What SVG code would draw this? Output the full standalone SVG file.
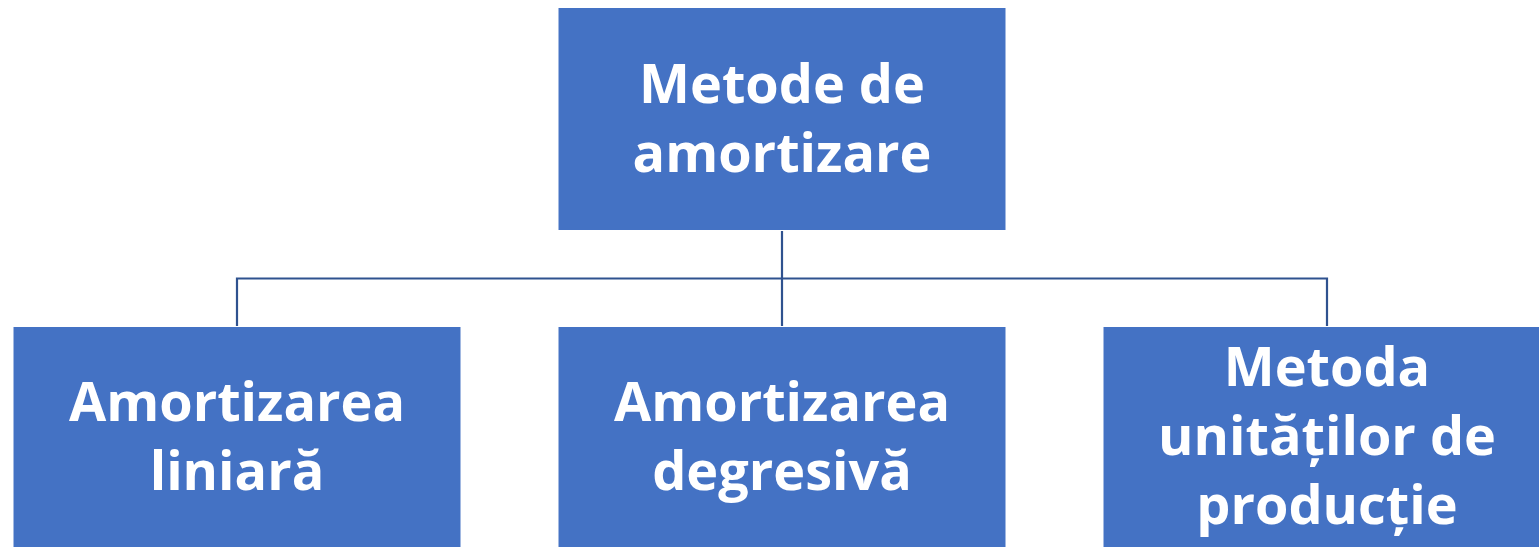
<svg xmlns="http://www.w3.org/2000/svg" width="1539" height="547" viewBox="0 0 1539 547">
<style>
.box{fill:#4472C4;stroke:#ffffff;stroke-width:1}
.lbl{fill:#ffffff;font-family:"Open Sans","Noto Sans","Liberation Sans",sans-serif;font-weight:bold;font-size:54px;text-anchor:middle}
.conn{fill:none;stroke:#2F528F;stroke-width:2.2}
</style>
<rect width="1539" height="547" fill="#ffffff"/>
<g id="connectors">
<path class="conn" d="M782 230 V326"/>
<path class="conn" d="M237 326 V278.5 H1327 V326"/>
</g>
<g id="root">
<rect class="box" x="558" y="7.5" width="448" height="223"/>
<text class="lbl" x="782" y="103">Metode de</text>
<text class="lbl" x="782" y="172">amortizare</text>
</g>
<g id="liniara">
<rect class="box" x="13" y="326.5" width="448" height="223"/>
<text class="lbl" x="237" y="421">Amortizarea</text>
<text class="lbl" x="237" y="490">liniară</text>
</g>
<g id="degresiva">
<rect class="box" x="558" y="326.5" width="448" height="223"/>
<text class="lbl" x="782" y="421">Amortizarea</text>
<text class="lbl" x="782" y="490">degresivă</text>
</g>
<g id="productie">
<rect class="box" x="1103" y="326.5" width="448" height="223"/>
<text class="lbl" x="1327" y="386">Metoda</text>
<text class="lbl" x="1327" y="455">unităților de</text>
<text class="lbl" x="1327" y="524">producție</text>
</g>
</svg>
